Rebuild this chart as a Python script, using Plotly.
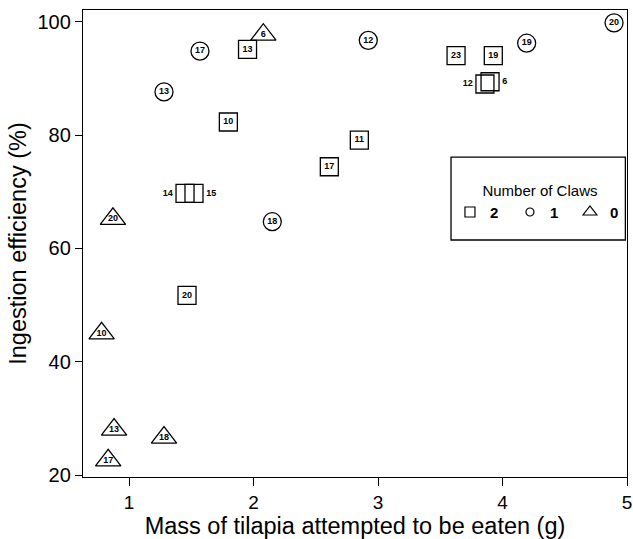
import plotly.graph_objects as go

# ---- data ----
sq_x = [1.952, 1.798, 3.627, 3.926, 3.859, 3.900, 2.850, 2.609, 1.450, 1.522, 1.466]
sq_y = [95.1, 82.3, 94.0, 94.0, 89.0, 89.4, 79.1, 74.4, 69.7, 69.7, 51.7]
sq_lab = ["13", "10", "23", "19", "12", "6", "11", "17", "14", "15", "20"]
sq_pos = ["middle center", "middle center", "middle center", "middle center",
          "middle left", "middle right", "middle center", "middle center",
          "middle left", "middle right", "middle center"]

ci_x = [1.570, 1.281, 2.922, 4.194, 4.896, 2.151]
ci_y = [94.8, 87.6, 96.7, 96.2, 99.8, 64.7]
ci_lab = ["17", "13", "12", "19", "20", "18"]

tr_x = [2.079, 0.871, 0.780, 0.880, 1.281, 0.833]
tr_y = [97.7, 65.2, 45.0, 28.0, 26.6, 22.6]
tr_lab = ["6", "20", "10", "13", "18", "17"]

x_ticks = [1, 2, 3, 4, 5]
y_ticks = [20, 40, 60, 80, 100]

FONT = "Liberation Sans, Arial, Helvetica, sans-serif"
LBL = dict(family=FONT, size=9, color="black", weight="bold")

fig = go.Figure()

fig.add_trace(go.Scatter(
    x=sq_x, y=sq_y, mode="markers+text", text=sq_lab, textposition=sq_pos,
    textfont=LBL, showlegend=False, cliponaxis=False,
    marker=dict(symbol="square-open", size=18, color="black", line=dict(width=1.3, color="black"))))
fig.add_trace(go.Scatter(
    x=ci_x, y=ci_y, mode="markers+text", text=ci_lab, textposition="middle center",
    textfont=LBL, showlegend=False, cliponaxis=False,
    marker=dict(symbol="circle-open", size=18, color="black", line=dict(width=1.3, color="black"))))
fig.add_trace(go.Scatter(
    x=tr_x, y=tr_y, mode="markers+text", text=tr_lab, textposition="middle center",
    textfont=LBL, showlegend=False, cliponaxis=False,
    marker=dict(symbol="triangle-up-open", size=22, color="black", line=dict(width=1.3, color="black"))))

# legend-only entries
for sym, name, sz in [("square-open", "2", 10), ("circle-open", "1", 8), ("triangle-up-open", "0", 12)]:
    fig.add_trace(go.Scatter(
        x=[None], y=[None], mode="markers", name="<b>" + name + "</b>",
        marker=dict(symbol=sym, size=sz, color="black", line=dict(width=1.2, color="black"))))

fig.update_layout(
    width=633, height=539,
    margin=dict(l=83, r=6, t=10, b=62, autoexpand=False),
    paper_bgcolor="white", plot_bgcolor="white",
    font=dict(family=FONT, color="black"),
    showlegend=True,
    legend=dict(
        orientation="h", x=0.84, xanchor="center", y=0.644, yanchor="top",
        bgcolor="rgba(0,0,0,0)", borderwidth=0,
        font=dict(family=FONT, size=15, color="black"),
        title=dict(text="Number of Claws", side="top center", font=dict(family=FONT, size=15)),
        entrywidth=15, itemsizing="trace", itemwidth=30,
    ),
    shapes=[dict(type="rect", xref="paper", yref="paper", x0=0.6765, x1=0.997,
                 y0=0.5075, y1=0.685, line=dict(color="black", width=1.3), fillcolor="rgba(0,0,0,0)")],
    xaxis=dict(
        range=[0.6305, 5.0], tickvals=x_ticks, ticktext=[str(v) for v in x_ticks],
        showline=True, linecolor="black", linewidth=1.3, mirror=True,
        ticks="outside", ticklen=8, tickwidth=1.3, tickcolor="black",
        showgrid=False, zeroline=False, automargin=False,
        tickfont=dict(size=19, family=FONT),
        title=dict(text="Mass of tilapia attempted to be eaten (g)", font=dict(size=23.5, family=FONT), standoff=1),
    ),
    yaxis=dict(
        range=[19.65, 102.06], tickvals=y_ticks, ticktext=[str(v) for v in y_ticks],
        showline=True, linecolor="black", linewidth=1.3, mirror=True,
        ticks="outside", ticklen=7, tickwidth=1.3, tickcolor="black",
        showgrid=False, zeroline=False, automargin=False,
        tickfont=dict(size=20, family=FONT),
        title=dict(text="Ingestion efficiency (%)", font=dict(size=23.5, family=FONT), standoff=4),
    ),
)

fig.write_html("out.html", config={"displayModeBar": False},
               post_script="document.body.style.margin='0';document.body.style.overflow='hidden';")
